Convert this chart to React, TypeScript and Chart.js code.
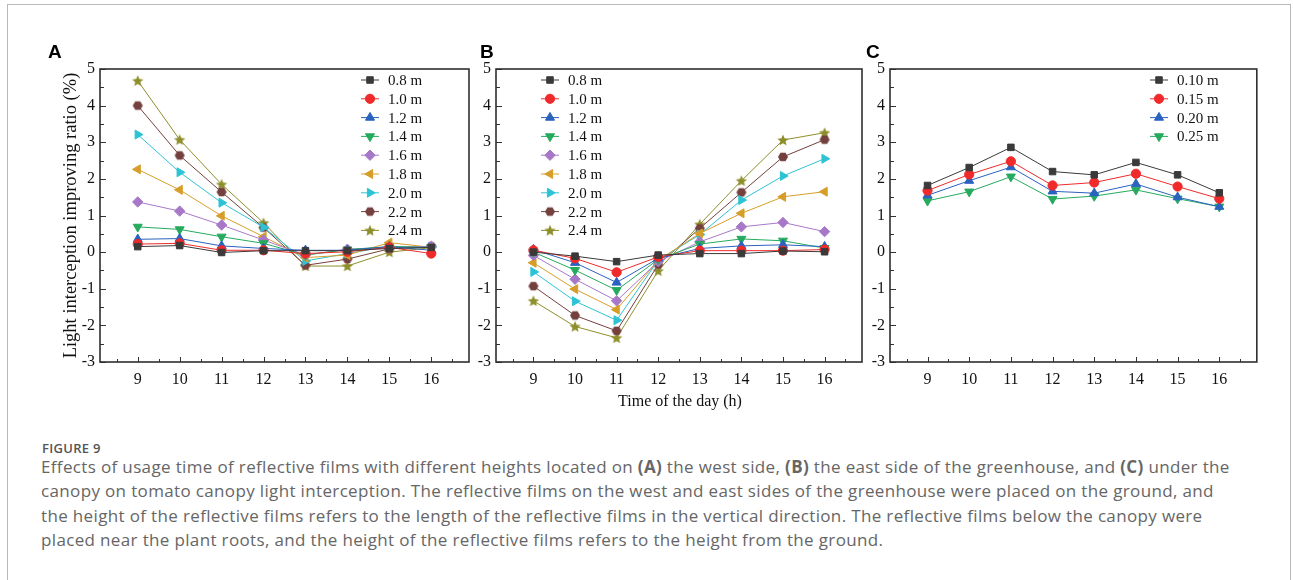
import React, { useEffect, useRef } from 'react';
import { Chart, registerables } from 'chart.js';
import { drawPoint } from 'chart.js/helpers';

Chart.register(...registerables);

// ---------- data ----------
const hours = [9, 10, 11, 12, 13, 14, 15, 16];
const xTickValues = [9, 10, 11, 12, 13, 14, 15, 16];
const yTickValues = [-3, -2, -1, 0, 1, 2, 3, 4, 5];

const heightLabelsAB = ['0.8 m', '1.0 m', '1.2 m', '1.4 m', '1.6 m', '1.8 m', '2.0 m', '2.2 m', '2.4 m'];
const heightLabelsC = ['0.10 m', '0.15 m', '0.20 m', '0.25 m'];

// Panel A: west side
const westH08 = [0.15, 0.18, -0.01, 0.04, 0.04, 0.04, 0.1, 0.13];
const westH10 = [0.22, 0.24, 0.05, 0.05, -0.04, 0.01, 0.13, -0.04];
const westH12 = [0.35, 0.37, 0.17, 0.1, 0.05, 0.05, 0.15, 0.05];
const westH14 = [0.69, 0.62, 0.42, 0.24, -0.08, 0.07, 0.15, 0.13];
const westH16 = [1.37, 1.12, 0.74, 0.33, -0.08, 0.08, 0.13, 0.16];
const westH18 = [2.26, 1.7, 0.99, 0.42, -0.15, -0.08, 0.26, 0.13];
const westH20 = [3.21, 2.18, 1.35, 0.68, -0.24, -0.04, 0.16, 0.13];
const westH22 = [4.0, 2.64, 1.64, 0.67, -0.36, -0.19, 0.09, 0.16];
const westH24 = [4.68, 3.07, 1.85, 0.8, -0.38, -0.38, 0.0, 0.12];

// Panel B: east side
const eastH08 = [0.0, -0.11, -0.26, -0.08, -0.04, -0.04, 0.03, 0.01];
const eastH10 = [0.05, -0.17, -0.55, -0.13, 0.04, 0.04, 0.04, 0.07];
const eastH12 = [0.07, -0.29, -0.83, -0.17, 0.1, 0.17, 0.2, 0.15];
const eastH14 = [0.0, -0.49, -1.04, -0.2, 0.22, 0.36, 0.31, 0.11];
const eastH16 = [-0.09, -0.74, -1.33, -0.26, 0.28, 0.69, 0.81, 0.56];
const eastH18 = [-0.29, -1.01, -1.57, -0.22, 0.51, 1.06, 1.51, 1.65];
const eastH20 = [-0.54, -1.34, -1.86, -0.22, 0.48, 1.42, 2.08, 2.55];
const eastH22 = [-0.93, -1.73, -2.15, -0.34, 0.65, 1.63, 2.6, 3.07];
const eastH24 = [-1.33, -2.03, -2.34, -0.51, 0.76, 1.95, 3.06, 3.26];

// Panel C: under canopy
const canopyH010 = [1.82, 2.31, 2.86, 2.2, 2.11, 2.45, 2.11, 1.62];
const canopyH015 = [1.68, 2.12, 2.48, 1.82, 1.9, 2.14, 1.79, 1.46];
const canopyH020 = [1.55, 1.95, 2.32, 1.66, 1.61, 1.86, 1.5, 1.24];
const canopyH025 = [1.4, 1.65, 2.06, 1.45, 1.53, 1.7, 1.46, 1.24];

const westSeries = [westH08, westH10, westH12, westH14, westH16, westH18, westH20, westH22, westH24];
const eastSeries = [eastH08, eastH10, eastH12, eastH14, eastH16, eastH18, eastH20, eastH22, eastH24];
const canopySeries = [canopyH010, canopyH015, canopyH020, canopyH025];

// ---------- styles ----------
const seriesColors = ['#3a3a3a', '#f02a2a', '#2a62c0', '#25aa5e', '#a878c8', '#d69e28', '#2ec3d4', '#74403e', '#8e8e2a'];
const markerKinds = ['rect', 'circle', 'tri', 'triDown', 'diamond', 'triLeft', 'triRight', 'hex', 'star'];

const SERIF = '"Liberation Serif", "Times New Roman", serif';

function makeStar(color: string, r: number) {
  const c = document.createElement('canvas');
  const s = Math.ceil(r * 2 + 2);
  c.width = s;
  c.height = s;
  const ctx = c.getContext('2d')!;
  ctx.fillStyle = color;
  ctx.beginPath();
  for (let i = 0; i < 10; i++) {
    const rad = i % 2 === 0 ? r : r * 0.45;
    const a = -Math.PI / 2 + (i * Math.PI) / 5;
    const x = s / 2 + rad * Math.cos(a);
    const y = s / 2 + 0.5 + rad * Math.sin(a);
    if (i === 0) ctx.moveTo(x, y);
    else ctx.lineTo(x, y);
  }
  ctx.closePath();
  ctx.fill();
  return c;
}

function makeHex(color: string, r: number) {
  const c = document.createElement('canvas');
  const s = Math.ceil(r * 2 + 2);
  c.width = s;
  c.height = s;
  const ctx = c.getContext('2d')!;
  ctx.fillStyle = color;
  ctx.beginPath();
  for (let i = 0; i < 6; i++) {
    const a = (i * Math.PI) / 3;
    const x = s / 2 + r * Math.cos(a);
    const y = s / 2 + r * Math.sin(a);
    if (i === 0) ctx.moveTo(x, y);
    else ctx.lineTo(x, y);
  }
  ctx.closePath();
  ctx.fill();
  return c;
}

function markerStyle(kind: string, color: string) {
  switch (kind) {
    case 'rect':
      return { pointStyle: 'rect', rotation: 0, radius: 4.6 };
    case 'circle':
      return { pointStyle: 'circle', rotation: 0, radius: 4.6 };
    case 'tri':
      return { pointStyle: 'triangle', rotation: 0, radius: 5.2 };
    case 'triDown':
      return { pointStyle: 'triangle', rotation: 180, radius: 5.2 };
    case 'diamond':
      return { pointStyle: 'rectRot', rotation: 0, radius: 5.2 };
    case 'triLeft':
      return { pointStyle: 'triangle', rotation: -90, radius: 5.2 };
    case 'triRight':
      return { pointStyle: 'triangle', rotation: 90, radius: 5.2 };
    case 'hex':
      return { pointStyle: makeHex(color, 5), rotation: 0, radius: 5 };
    case 'star':
      return { pointStyle: makeStar(color, 6), rotation: 0, radius: 6 };
    default:
      return { pointStyle: 'circle', rotation: 0, radius: 4.6 };
  }
}

type PanelCfg = {
  labels: string[];
  series: number[][];
  yTitle: boolean;
  legendX: number; // marker center relative to canvas
  legendY: number;
  yAxisWidth: number;
};

const frameAndLegend = {
  id: 'frameAndLegend',
  afterDraw(chart: any, _args: any, opts: any) {
    const { ctx, chartArea } = chart;
    const xs = chart.scales.x;
    const ys = chart.scales.y;
    ctx.save();
    // inward tick marks
    ctx.strokeStyle = '#333';
    ctx.lineWidth = 1;
    for (let v = -3; v <= 5.001; v += 0.5) {
      const y = Math.round(ys.getPixelForValue(v)) + 0.5;
      const major = Math.abs(v - Math.round(v)) < 0.01;
      ctx.beginPath();
      ctx.moveTo(chartArea.left, y);
      ctx.lineTo(chartArea.left + (major ? 6 : 4), y);
      ctx.stroke();
    }
    for (let v = 8.5; v <= 16.5001; v += 0.5) {
      const x = Math.round(xs.getPixelForValue(v)) + 0.5;
      const major = Math.abs(v - Math.round(v)) < 0.01;
      ctx.beginPath();
      ctx.moveTo(x, chartArea.bottom);
      ctx.lineTo(x, chartArea.bottom - (major ? 5 : 3));
      ctx.stroke();
    }
    // frame
    ctx.lineWidth = 1.6;
    ctx.strokeStyle = '#2f2f2f';
    ctx.strokeRect(chartArea.left, chartArea.top, chartArea.right - chartArea.left, chartArea.bottom - chartArea.top);

    // legend
    const gap = 18.8;
    chart.data.datasets.forEach((ds: any, i: number) => {
      const cx = opts.x;
      const cy = opts.y + i * gap;
      ctx.strokeStyle = ds.borderColor;
      ctx.lineWidth = 1;
      ctx.beginPath();
      ctx.moveTo(cx - 9, cy);
      ctx.lineTo(cx + 9, cy);
      ctx.stroke();
      ctx.fillStyle = ds.backgroundColor;
      ctx.strokeStyle = ds.borderColor;
      drawPoint(ctx, { pointStyle: ds.pointStyle, rotation: ds.pointRotation, radius: ds.pointRadius, borderWidth: 1 }, cx, cy);
      ctx.fillStyle = '#111';
      ctx.font = `15px ${SERIF}`;
      ctx.textBaseline = 'middle';
      ctx.textAlign = 'left';
      ctx.fillText(ds.label, cx + 18, cy + 1);
    });
    ctx.restore();
  },
};

function Panel({ cfg, left, top, width, height }: { cfg: PanelCfg; left: number; top: number; width: number; height: number }) {
  const ref = useRef<HTMLCanvasElement | null>(null);
  useEffect(() => {
    if (!ref.current) return;
    const datasets = cfg.series.map((vals, i) => {
      const color = seriesColors[i];
      const m = markerStyle(markerKinds[i], color);
      return {
        label: cfg.labels[i],
        data: hours.map((h, j) => ({ x: h, y: vals[j] })),
        borderColor: color,
        backgroundColor: color,
        borderWidth: 1,
        pointStyle: m.pointStyle as any,
        pointRotation: m.rotation,
        pointRadius: m.radius,
        pointBorderWidth: 1,
        pointBorderColor: color,
        pointBackgroundColor: color,
        tension: 0,
      };
    });
    const chart = new Chart(ref.current, {
      type: 'line',
      data: { datasets },
      options: {
        responsive: false,
        animation: false,
        events: [],
        layout: { padding: { top: 29, right: 6, left: 0, bottom: 0 } },
        plugins: {
          legend: { display: false },
          tooltip: { enabled: false },
          frameAndLegend: { x: cfg.legendX, y: cfg.legendY },
        } as any,
        scales: {
          x: {
            type: 'linear',
            min: 8.1,
            max: 16.9,
            afterBuildTicks: (s: any) => {
              s.ticks = xTickValues.map((v) => ({ value: v }));
            },
            afterFit: (s: any) => {
              s.height = 38;
            },
            grid: { display: false, drawTicks: false, tickLength: 0 },
            border: { display: false },
            ticks: {
              padding: 8,
              color: '#111',
              font: { family: SERIF, size: 16 },
              callback: (v: any) => String(v),
            },
          },
          y: {
            type: 'linear',
            min: -3,
            max: 5,
            afterBuildTicks: (s: any) => {
              s.ticks = yTickValues.map((v) => ({ value: v }));
            },
            afterFit: (s: any) => {
              s.width = cfg.yAxisWidth;
            },
            grid: { display: false, drawTicks: false, tickLength: 0 },
            border: { display: false },
            ticks: {
              padding: 5,
              color: '#111',
              font: { family: SERIF, size: 16 },
              callback: (v: any) => String(v),
            },
            title: {
              display: cfg.yTitle,
              text: 'Light interception improving ratio (%)',
              color: '#111',
              font: { family: SERIF, size: 18.5 },
              padding: { top: 0, bottom: 0 },
            },
          },
        },
      },
      plugins: [frameAndLegend],
    });
    return () => chart.destroy();
  }, []);
  return (
    <canvas
      ref={ref}
      width={width}
      height={height}
      style={{ position: 'absolute', left, top, width, height }}
    />
  );
}

const panelA: PanelCfg = { labels: heightLabelsAB, series: westSeries, yTitle: true, legendX: 310, legendY: 40, yAxisWidth: 40 };
const panelB: PanelCfg = { labels: heightLabelsAB, series: eastSeries, yTitle: false, legendX: 90, legendY: 40, yAxisWidth: 36 };
const panelC: PanelCfg = { labels: heightLabelsC, series: canopySeries, yTitle: false, legendX: 305, legendY: 40, yAxisWidth: 36 };

const captionLines = [
  <>Effects of usage time of reflective films with different heights located on <b>(A)</b> the west side, <b>(B)</b> the east side of the greenhouse, and <b>(C)</b> under the</>,
  <>canopy on tomato canopy light interception. The reflective films on the west and east sides of the greenhouse were placed on the ground, and</>,
  <>the height of the reflective films refers to the length of the reflective films in the vertical direction. The reflective films below the canopy were</>,
  <>placed near the plant roots, and the height of the reflective films refers to the height from the ground.</>,
];

export default function App() {
  const panelLabel = (t: string, x: number) => (
    <div style={{ position: 'absolute', left: x, top: 41, font: 'bold 19px "Liberation Sans", Arial, sans-serif', color: '#000' }}>{t}</div>
  );
  return (
    <div style={{ position: 'absolute', left: 0, top: 0, width: 1293, height: 580, background: '#fff', overflow: 'hidden' }}>
      <div style={{ position: 'absolute', left: 7, top: 4, width: 1284, height: 600, border: '1px solid #b8b8b8', boxSizing: 'border-box' }} />
      <Panel cfg={panelA} left={60} top={40} width={416} height={360} />
      <Panel cfg={panelB} left={460} top={40} width={409} height={360} />
      <Panel cfg={panelC} left={854} top={40} width={409} height={360} />
      {panelLabel('A', 48)}
      {panelLabel('B', 480)}
      {panelLabel('C', 866)}
      <div style={{ position: 'absolute', left: 560, width: 240, top: 392, textAlign: 'center', font: `16px ${SERIF}`, color: '#111' }}>Time of the day (h)</div>
      <div style={{ position: 'absolute', left: 42, top: 439, font: '600 13px "Open Sans", sans-serif', color: '#555', letterSpacing: 0.3, lineHeight: 'normal' }}>FIGURE 9</div>
      <div style={{ position: 'absolute', left: 41, top: 455, font: '17px "Open Sans", sans-serif', color: '#666', lineHeight: '24.3px', letterSpacing: 0.35, whiteSpace: 'nowrap' }}>
        {captionLines.map((l, i) => (
          <div key={i}>{l}</div>
        ))}
      </div>
    </div>
  );
}
